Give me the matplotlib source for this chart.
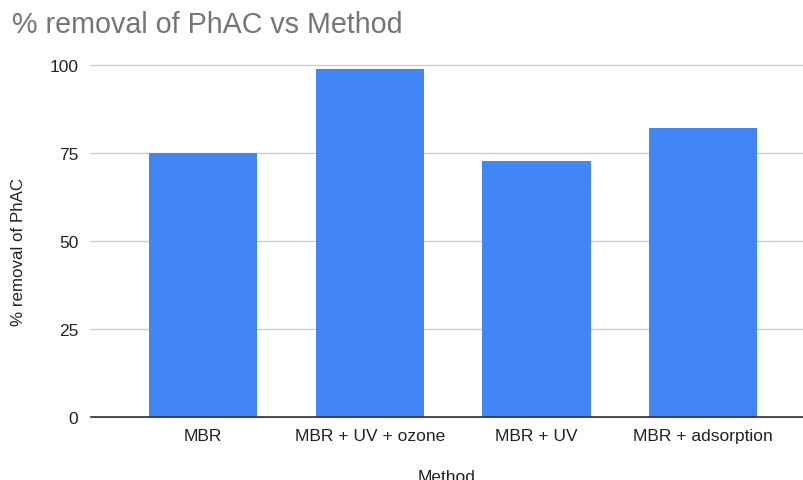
import matplotlib.pyplot as plt

plt.rcParams['font.family'] = ['Liberation Sans', 'DejaVu Sans']

methods = ['MBR', 'MBR + UV + ozone', 'MBR + UV', 'MBR + adsorption']
removal = [75, 99, 72.7, 82]
yticks = [0, 25, 50, 75, 100]

fig = plt.figure(figsize=(8.04, 4.81), dpi=100)
ax = fig.add_axes([91 / 804, 1 - 418 / 481, 1 - 91 / 804, 352 / 481])

ax.bar(range(len(methods)), removal, width=0.65, color='#4285f4', zorder=3)
ax.set_xlim(-0.672, 3.605)
ax.set_ylim(0, 100)
ax.set_yticks(yticks)
ax.set_xticks(range(len(methods)))
ax.set_xticklabels(methods)
ax.grid(axis='y', color='#cccccc', linewidth=1, zorder=0)
for gl in ax.get_ygridlines():
    gl.set_clip_on(False)

for s in ['top', 'right', 'left']:
    ax.spines[s].set_visible(False)
ax.spines['bottom'].set_color('#333333')
ax.spines['bottom'].set_linewidth(1.2)
ax.spines['bottom'].set_zorder(4)
ax.tick_params(length=0, labelsize=12.5, colors='#222222')
ax.tick_params(axis='y', pad=9)
ax.tick_params(axis='x', pad=8)

# axis titles placed like the original (x title partly cut at the bottom edge)
fig.text(19 / 804, 1 - 252 / 481, '% removal of PhAC', fontsize=12.2, color='#222222',
         rotation=90, va='center', ha='center')
fig.text(447 / 804, 1 - 470 / 481, 'Method', fontsize=12.5, color='#222222',
         va='top', ha='center')
fig.text(12 / 804, 1 - 25 / 481, '% removal of PhAC vs Method', fontsize=20.6,
         color='#757575', va='center', ha='left')

fig.savefig('out.png', dpi=100)
